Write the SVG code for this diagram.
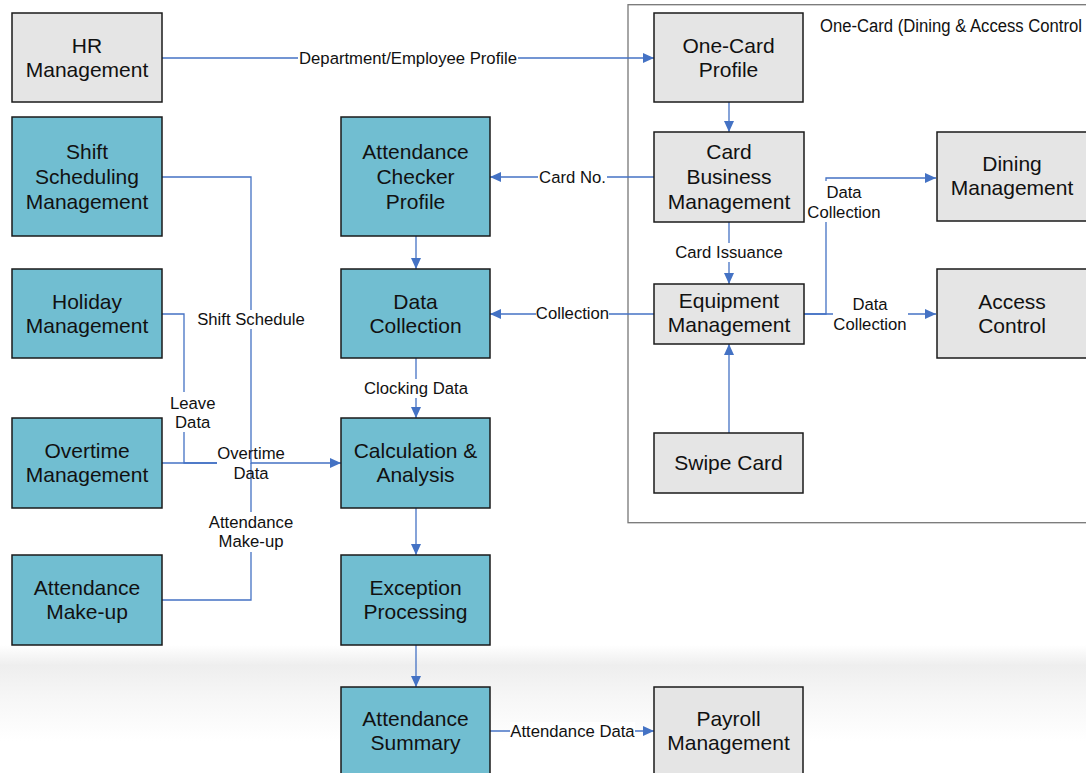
<svg xmlns="http://www.w3.org/2000/svg" width="1086" height="773" viewBox="0 0 1086 773">
<defs>
<linearGradient id="band" x1="0" y1="0" x2="0" y2="1">
<stop offset="0" stop-color="#ffffff"/>
<stop offset="0.16" stop-color="#eeeeee"/>
<stop offset="0.4" stop-color="#f6f6f6"/>
<stop offset="0.75" stop-color="#ffffff"/>
<stop offset="1" stop-color="#ffffff"/>
</linearGradient>
<marker id="arr" markerUnits="userSpaceOnUse" markerWidth="12" markerHeight="10" refX="11" refY="5" orient="auto">
<path d="M0,0 L11,5 L0,10 Z" fill="#4472c4"/>
</marker>
<style>
.teal{fill:#71bed1;stroke:#1a1a1a;stroke-width:1.5}
.gray{fill:#e5e5e5;stroke:#1a1a1a;stroke-width:1.5}
.nt{font-family:"Liberation Sans",Arial,sans-serif;font-size:21px;fill:#111;text-anchor:middle}
.lt{font-family:"Liberation Sans",Arial,sans-serif;font-size:16.7px;fill:#111;text-anchor:middle}
.ln{fill:none;stroke:#4472c4;stroke-width:1.3}
.bg{fill:#ffffff}
</style>
</defs>
<rect x="0" y="0" width="1086" height="773" fill="#ffffff"/>
<rect x="0" y="645" width="1086" height="128" fill="url(#band)"/>

<g id="frame-onecard">
<rect x="628" y="4.7" width="500" height="518" fill="none" stroke="#777777" stroke-width="1.3"/>
<text x="820" y="32" font-family="'Liberation Sans',Arial,sans-serif" font-size="18" fill="#111" textLength="262" lengthAdjust="spacingAndGlyphs">One-Card (Dining &amp; Access Control</text>
</g>

<g id="connectors">
<path class="ln" d="M162,58 H654" marker-end="url(#arr)"/>
<path class="ln" d="M729,102 V132" marker-end="url(#arr)"/>
<path class="ln" d="M654,177 H490" marker-end="url(#arr)"/>
<path class="ln" d="M729,222 V284" marker-end="url(#arr)"/>
<path class="ln" d="M654,314 H490" marker-end="url(#arr)"/>
<path class="ln" d="M804,314 H826 V178 H936" marker-end="url(#arr)"/>
<path class="ln" d="M804,314 H936" marker-end="url(#arr)"/>
<path class="ln" d="M729,433 V344" marker-end="url(#arr)"/>
<path class="ln" d="M416,236 V269" marker-end="url(#arr)"/>
<path class="ln" d="M416,358 V418" marker-end="url(#arr)"/>
<path class="ln" d="M416,508 V555" marker-end="url(#arr)"/>
<path class="ln" d="M416,645 V687" marker-end="url(#arr)"/>
<path class="ln" d="M490,731 H654" marker-end="url(#arr)"/>
<path class="ln" d="M162,314 H184 V463 H217"/>
<path class="ln" d="M162,463 H217"/>
<path class="ln" d="M162,177 H251 V463 H341" marker-end="url(#arr)"/>
<path class="ln" d="M162,600 H251 V463"/>

<rect class="bg" x="298" y="49" width="220" height="19"/>
<text class="lt" x="408" y="64">Department/Employee Profile</text>
<rect class="bg" x="538" y="168" width="69" height="19"/>
<text class="lt" x="572.5" y="183">Card No.</text>
<rect class="bg" x="674" y="243" width="110" height="19"/>
<text class="lt" x="729" y="258">Card Issuance</text>
<rect class="bg" x="536" y="304" width="73" height="19"/>
<text class="lt" x="572.5" y="319">Collection</text>
<rect class="bg" x="807" y="181" width="74" height="41"/>
<text class="lt" x="844" y="197.5">Data</text>
<text class="lt" x="844" y="217.5">Collection</text>
<rect class="bg" x="833" y="293" width="75" height="41"/>
<text class="lt" x="870" y="309.5">Data</text>
<text class="lt" x="870" y="329.5">Collection</text>
<rect class="bg" x="363" y="379" width="106" height="19"/>
<text class="lt" x="416" y="394">Clocking Data</text>
<rect class="bg" x="510" y="722" width="125" height="19"/>
<text class="lt" x="572.5" y="737">Attendance Data</text>
<rect class="bg" x="196" y="310" width="110" height="19"/>
<text class="lt" x="251" y="325">Shift Schedule</text>
<rect class="bg" x="168" y="392" width="50" height="40"/>
<text class="lt" x="192.7" y="408.5">Leave</text>
<text class="lt" x="192.7" y="428">Data</text>
<text class="lt" x="251" y="458.5">Overtime</text>
<text class="lt" x="251" y="478.5">Data</text>
<rect class="bg" x="207" y="512" width="88" height="40"/>
<text class="lt" x="251" y="527.5">Attendance</text>
<text class="lt" x="251" y="547">Make-up</text>
</g>

<g id="hr-management">
<rect class="gray" x="12" y="13" width="150" height="89"/>
<text class="nt" x="87" y="52.9">HR</text>
<text class="nt" x="87" y="76.9">Management</text>
</g>
<g id="shift-scheduling">
<rect class="teal" x="12" y="117" width="150" height="119"/>
<text class="nt" x="87" y="158.5">Shift</text>
<text class="nt" x="87" y="183.5">Scheduling</text>
<text class="nt" x="87" y="208.5">Management</text>
</g>
<g id="holiday-management">
<rect class="teal" x="12" y="269" width="150" height="89"/>
<text class="nt" x="87" y="308.9">Holiday</text>
<text class="nt" x="87" y="332.9">Management</text>
</g>
<g id="overtime-management">
<rect class="teal" x="12" y="418" width="150" height="90"/>
<text class="nt" x="87" y="458.4">Overtime</text>
<text class="nt" x="87" y="482.4">Management</text>
</g>
<g id="attendance-makeup">
<rect class="teal" x="12" y="555" width="150" height="90"/>
<text class="nt" x="87" y="595.4">Attendance</text>
<text class="nt" x="87" y="619.4">Make-up</text>
</g>
<g id="attendance-checker-profile">
<rect class="teal" x="341" y="117" width="149" height="119"/>
<text class="nt" x="415.5" y="158.5">Attendance</text>
<text class="nt" x="415.5" y="183.5">Checker</text>
<text class="nt" x="415.5" y="208.5">Profile</text>
</g>
<g id="data-collection">
<rect class="teal" x="341" y="269" width="149" height="89"/>
<text class="nt" x="415.5" y="308.9">Data</text>
<text class="nt" x="415.5" y="332.9">Collection</text>
</g>
<g id="calculation-analysis">
<rect class="teal" x="341" y="418" width="149" height="90"/>
<text class="nt" x="415.5" y="458.4">Calculation &amp;</text>
<text class="nt" x="415.5" y="482.4">Analysis</text>
</g>
<g id="exception-processing">
<rect class="teal" x="341" y="555" width="149" height="90"/>
<text class="nt" x="415.5" y="595.4">Exception</text>
<text class="nt" x="415.5" y="619.4">Processing</text>
</g>
<g id="attendance-summary">
<rect class="teal" x="341" y="687" width="149" height="89"/>
<text class="nt" x="415.5" y="726.4">Attendance</text>
<text class="nt" x="415.5" y="750.4">Summary</text>
</g>
<g id="onecard-profile">
<rect class="gray" x="654" y="13" width="149" height="89"/>
<text class="nt" x="728.5" y="52.9">One-Card</text>
<text class="nt" x="728.5" y="76.9">Profile</text>
</g>
<g id="card-business-management">
<rect class="gray" x="654" y="132" width="150" height="90"/>
<text class="nt" x="729" y="158.5">Card</text>
<text class="nt" x="729" y="183.5">Business</text>
<text class="nt" x="729" y="208.5">Management</text>
</g>
<g id="equipment-management">
<rect class="gray" x="654" y="284" width="150" height="60"/>
<text class="nt" x="729" y="308.4">Equipment</text>
<text class="nt" x="729" y="332.4">Management</text>
</g>
<g id="swipe-card">
<rect class="gray" x="654" y="433" width="149" height="60"/>
<text class="nt" x="728.5" y="470.4">Swipe Card</text>
</g>
<g id="dining-management">
<rect class="gray" x="937" y="132" width="150" height="89"/>
<text class="nt" x="1012" y="171.4">Dining</text>
<text class="nt" x="1012" y="195.4">Management</text>
</g>
<g id="access-control">
<rect class="gray" x="937" y="269" width="150" height="89"/>
<text class="nt" x="1012" y="308.9">Access</text>
<text class="nt" x="1012" y="332.9">Control</text>
</g>
<g id="payroll-management">
<rect class="gray" x="654" y="687" width="149" height="89"/>
<text class="nt" x="728.5" y="726.4">Payroll</text>
<text class="nt" x="728.5" y="750.4">Management</text>
</g>
</svg>
